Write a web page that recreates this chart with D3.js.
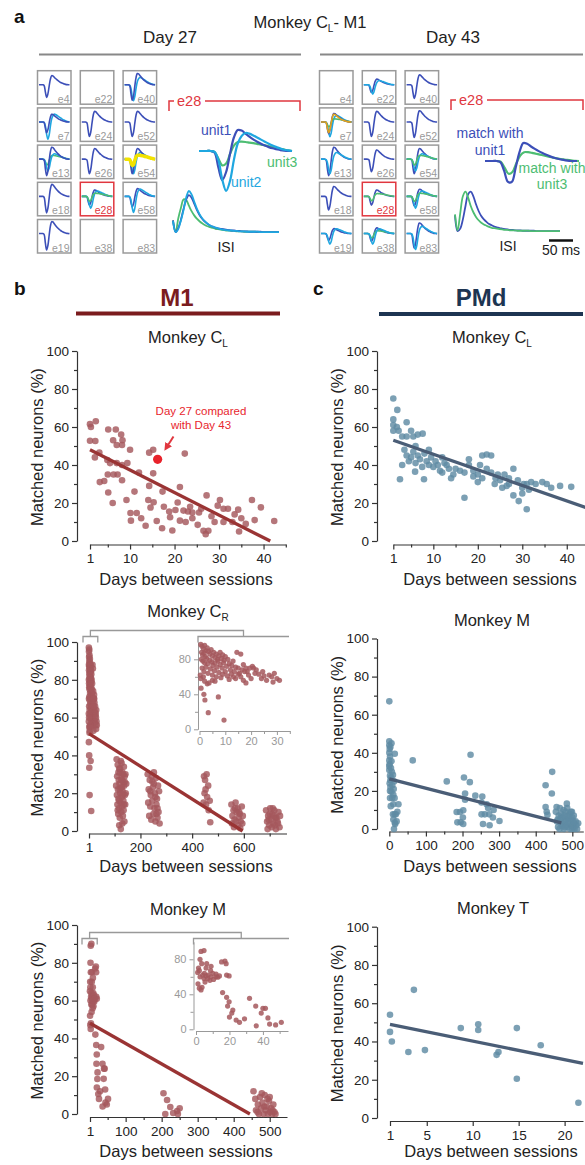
<!DOCTYPE html>
<html>
<head>
<meta charset="utf-8">
<script src="https://cdn.jsdelivr.net/npm/d3@7"></script>
<style>
body { margin: 0; background: #fff; }
svg { display: block; font-family: "Liberation Sans", Arial, Helvetica, sans-serif; }
</style>
</head>
<body>
<svg id="fig" width="585" height="1165"></svg>
<script>
// ---------- panel a : waveforms (normalised samples) ----------
var wfUnit1 = [0,0,0,0,-0.05,-0.55,-0.97,-0.7,-0.1,0.45,0.7,0.68,0.58,0.48,0.39,0.31,0.24,0.18,0.13,0.09,0.06,0.03,0.01,0,0];
var wfUnit2 = [0,0,0,0,-0.03,-0.3,-0.95,-1.33,-1.0,-0.3,0.25,0.5,0.6,0.58,0.52,0.45,0.38,0.31,0.24,0.18,0.13,0.08,0.04,0.02,0];
var wfUnit3 = [0,0,0,0,-0.03,-0.25,-0.48,-0.42,-0.1,0.18,0.3,0.31,0.3,0.28,0.26,0.24,0.21,0.19,0.16,0.13,0.1,0.07,0.05,0.02,0];
var wfMatch1 = [0,0,0,0,-0.05,-0.45,-0.95,-0.95,-0.3,0.4,0.82,0.78,0.66,0.55,0.45,0.36,0.28,0.21,0.15,0.1,0.06,0.03,0.01,0,0];
var wfMatch3 = [0,0,0,0,-0.03,-0.3,-0.58,-0.5,-0.1,0.25,0.4,0.4,0.37,0.33,0.29,0.25,0.21,0.17,0.13,0.1,0.07,0.05,0.03,0.01,0];

var isiUnit1 = [0.3,0.02,0.12,0.32,0.58,0.8,0.9,0.84,0.7,0.55,0.43,0.34,0.27,0.22,0.18,0.15,0.13,0.11,0.1,0.09,0.08,0.07,0.06,0.06,0.05,0.05,0.04,0.04,0.04,0.03,0.03,0.03,0.03,0.03,0.02,0.02,0.02,0.02,0.02,0.02,0.02];
var isiUnit2 = [0.28,0.02,0.1,0.3,0.55,0.85,1.0,0.92,0.75,0.58,0.45,0.35,0.28,0.22,0.18,0.15,0.13,0.11,0.09,0.08,0.07,0.06,0.06,0.05,0.05,0.04,0.04,0.04,0.03,0.03,0.03,0.03,0.03,0.02,0.02,0.02,0.02,0.02,0.02,0.02,0.02];
var isiUnit3 = [0.3,0.03,0.35,0.6,0.8,0.78,0.65,0.52,0.42,0.34,0.28,0.23,0.19,0.16,0.14,0.12,0.1,0.09,0.08,0.07,0.06,0.06,0.05,0.05,0.04,0.04,0.04,0.03,0.03,0.03,0.03,0.03,0.02,0.02,0.02,0.02,0.02,0.02,0.02,0.02,0.02];
var isiMatch1 = [0.4,0.02,0.08,0.3,0.62,0.9,0.96,0.85,0.66,0.5,0.38,0.3,0.24,0.19,0.16,0.13,0.11,0.09,0.08,0.07,0.06,0.05,0.05,0.04,0.04,0.04,0.03,0.03,0.03,0.03,0.03,0.02,0.02,0.02,0.02,0.02,0.02,0.02,0.02,0.02,0.02];
var isiMatch3 = [0.42,0.04,0.45,0.85,0.96,0.82,0.62,0.47,0.36,0.28,0.22,0.18,0.15,0.12,0.1,0.09,0.08,0.07,0.06,0.05,0.05,0.04,0.04,0.04,0.03,0.03,0.03,0.03,0.03,0.02,0.02,0.02,0.02,0.02,0.02,0.02,0.02,0.02,0.02,0.02,0.02];

var electrodes = ["e4","e22","e40","e7","e24","e52","e13","e26","e54","e18","e28","e58","e19","e38","e83"];
// [unit, amplitude] per electrode, same order as electrodes
var waves27 = [
  [["u1",13]], [], [["u2",12],["u1",16]],
  [["u2",13],["u1",11]], [["u1",15]], [["u1",15]],
  [["u3",12],["u2",9],["u1",17]], [["u1",15]], [["u2",11],["u1",15],["u4",13]],
  [["u1",17]], [["u1",9],["u2",9],["u3",10]], [["u1",11],["u2",12]],
  [["u1",17]], [], []
];
var waves43 = [
  [], [["u1",8],["u2",7]], [["u1",14]],
  [["u2",11],["u3",10],["u1",12],["u5",11]], [["u1",15]], [["u1",16]],
  [["u1",17],["u2",11]], [["u1",13]], [["u1",15],["u2",9],["u3",12]],
  [["u1",14]], [["u1",9],["u3",9]], [["u1",10],["u2",9],["u3",10]],
  [["u1",7],["u2",8]], [["u1",8],["u3",9],["u2",8]], [["u1",15],["u2",12]]
];

// ---------- panel b/c : % matched neurons vs days between sessions ----------
var m1CLPts = [[1,61.5],[1.2,60],[2.3,63],[1,52.8],[2.2,52.6],[2.1,44],[3.1,46.5],[3.2,31],[4.2,31.6],[5.1,25.5],[6.1,20],[5.1,58.7],[6.8,58.7],[6.2,53],[7,50.5],[8,56],[8.3,53],[8.2,50.5],[4.9,42.6],[5.5,41],[7,41],[8.2,40],[9.4,41],[5,35],[6.3,35],[7.2,35],[8.2,32],[10,48],[9.2,21.6],[10.1,14.7],[11.5,14.7],[14.3,46.5],[15.2,48],[15.2,35.6],[14.3,29],[14.1,21.6],[14.6,17.6],[15.3,20.4],[17.3,26],[17.6,18],[20.2,16.3],[22.3,46],[21.2,28.4],[20.7,20.3],[22,16],[23,15.5],[24,15],[25.5,15],[27.2,24],[30.2,21.6],[29.7,18.6],[31,17],[32,17],[37.4,21.6],[39.4,17.7],[10.2,10.7],[17.2,6.7],[21.2,10.7],[26.5,5.4],[27,3.6],[27.6,5.4],[31,10],[33,10],[42.4,10.5],[12.5,12],[13.5,8],[16,10.5],[19,12.5],[22.5,10],[24,12],[25.2,8.5],[28.3,13],[29,10],[33.5,14],[34.3,16.5],[35,12],[36,9],[38,11],[34.5,5],[19.5,5.5],[23.5,18],[26,17],[18.8,15.5],[12,36],[11,26]];
var m1CLHighlight = [[16.2,43]];
var m1CLFit = [[1,48],[41.5,0]];

var crEarly = [[0.5,97],[1,95],[1.5,92],[2,96],[2.5,90],[3,93],[0.8,88],[1.2,85],[1.8,87],[2.2,83],[3.5,89],[4,86],[4.5,91],[5,84],[5.5,88],[6,82],[6.5,86],[7,80],[7.5,84],[8,88],[8.5,81],[9,85],[9.5,79],[10,83],[0.7,80],[1.3,78],[2,76],[2.8,81],[3.2,75],[4,79],[4.8,77],[5.2,73],[6,76],[6.8,71],[7.2,78],[8,74],[8.8,70],[9.3,76],[10.5,72],[11,80],[11.5,75],[12,68],[12.5,73],[13,78],[13.5,66],[14,71],[14.5,88],[15,70],[15.5,64],[16,86],[16.5,68],[17,74],[1,70],[1.7,66],[2.5,71],[3.3,64],[4.2,69],[5,62],[5.8,67],[6.5,60],[7.5,65],[8.3,59],[9,63],[10,66],[10.8,61],[11.5,57],[12.3,63],[13.2,60],[14,58],[15,63],[16,60],[17,56],[18,53],[18.5,66],[19,62],[20,58],[21,70],[21.5,64],[22,68],[23,63],[24,58],[24.5,66],[25,61],[26,56],[27,62],[28,60],[28.5,54],[29,64],[30,58],[31,56],[2,55],[3,52],[0.6,47],[1.7,40],[2.1,33.5],[3.4,19],[7.3,37],[9.5,10.6],[3.7,53],[5,56],[6,55],[0.3,62],[0.5,58],[1.5,60],[19.5,70],[20.5,72],[17.5,66],[18,70]];
var crLate = [[108,38],[112,35],[118,33],[124,37],[130,31],[136,34],[142,30],[110,29],[116,27],[121,31],[127,28],[133,26],[139,29],[145,25],[106,24],[113,22],[119,25],[125,23],[131,21],[137,24],[143,20],[109,19],[115,17],[122,20],[128,18],[134,16],[140,19],[111,14],[117,12],[123,15],[129,13],[135,11],[141,14],[114,9],[120,7],[126,10],[132,8],[138,5],[118,3],[124,1],[130,4],[121,33],[127,36],[133,30],[115,31],[139,26],[126,27],[120,22],[132,19],[117,16],[128,23],[136,14],[112,11],
  [228,30],[236,27],[244,29],[252,25],[260,28],[268,24],[232,22],[240,19],[248,23],[256,20],[264,17],[272,21],[230,15],[238,13],[246,16],[254,12],[262,14],[270,10],[234,8],[242,6],[250,9],[258,5],[266,7],[274,4],[246,26],[258,18],[238,21],[266,12],[252,31],[262,9],
  [446,29],[456,30],[450,27],[462,24],[448,20],[458,18],[468,16],[444,15],[454,14],[464,11],[470,4.6],[452,22],
  [552,14],[560,11],[568,15],[576,12],[584,9],[592,13],[556,8],[564,6],[572,10],[580,7],[588,5],[596,8],[554,4],[562,2],[570,5],[578,3],[586,1.5],[594,4],[566,12],[582,10],
  [686,11],[694,8],[702,12],[710,9],[718,11],[726,7],[734,10],[690,5],[698,3],[706,6],[714,4],[722,7],[730,5],[738,2],[692,1],[700,9],[708,2],[716,8],[724,1],[732,4],[740,8],[712,12],[696,6],[720,3]];
var crFit = [[1,51.5],[595,0]];

var mEarly = [[3,89],[4.8,90],[2.4,80],[3.4,75],[6.4,75],[1.5,70],[2.4,60],[4.8,58],[7.3,62],[8.7,67],[10,64],[11.9,60],[13,59.5],[15.3,77],[17.3,78],[18,75],[18.3,62],[19.8,61],[3,45],[3.6,48],[5.4,54],[8.3,56],[15.9,42],[18.3,36.5],[19.8,31.5],[18.9,26.6],[32,35.4],[35.7,26.6],[40,24],[41.5,24],[1,65],[2,67],[4,62],[5,64],[6,61],[7,58],[9,60],[10.5,57],[12,63],[14,61],[6,70],[9,72],[1.2,52],[2,47],[21.4,18.5],[24,10.6],[26,8],[39,18.6],[43,13],[47.6,5],[51,8],[22,22],[20,14],[44,6],[29,12],[36,4]];
var mLate = [[205,11],[215,7.4],[224,3.7],[232,0.5],[243,1.6],[210,0],[245,0],[250,3],[455,12],[460,8],[462,2],[467,5],[470,0],[473,9],[476,3],[480,6],[483,0],[486,10],[489,2],[492,4],[495,0],[498,7],[501,1],[504,3],[507,0],[510,5],[513,1],[516,0],[478,11],[494,8],[466,1],[485,4],[500,9],[508,2]];
var mFit = [[1,48],[445,0]];

var pmdCLPts = [[1,75],[1.9,69],[1,64],[1,61],[1,58],[1.8,60],[2.2,58],[4,62.5],[3,55],[4,55],[5,58],[5.5,55],[6.5,56],[7.6,56.5],[2.5,32.5],[5.9,36.5],[7.9,32.5],[10,39],[12,44],[12.5,41],[13.5,38],[14.5,35],[14,33],[17,22.8],[18,43],[21,45],[22,45.5],[23,45],[21,33],[23.8,30],[24.5,35],[28,38],[25.5,28],[28,24],[29.2,21],[30,25],[31,16.7],[31,30],[32,31],[34.5,31],[35.5,30],[36.5,28],[38.5,29],[41,28.5],[30.3,30],[3.5,48],[4,45],[4.5,42],[5,44],[5.5,47],[6,41],[6.5,45],[7,43],[7.5,39],[8,46],[8.5,42],[9,40],[9.5,44],[10.5,42],[11,40],[11.5,37],[12,36],[13,40],[15,38],[16,37],[17,36],[18,40],[19,37],[20,35],[20.5,40],[22,38],[23,36],[24,33],[25,32],[26,35],[27,33],[29,32],[30,28],[31.5,27],[33,30],[27,30],[20,31],[19,34],[26.5,29],[6,50],[3,40],[9,48]];
var pmdCLFit = [[1,53],[45,17]];

var pmdMPts = [[0,67],[0,46],[0,44],[1,42],[0,40],[2,38],[15,39.5],[0,36],[1,34],[0,33],[0,31],[2,28],[4.5,32],[6,35.6],[3,25.6],[2,20],[6,19.5],[2,16.3],[8,16.3],[11,18],[14.5,16.3],[11,13],[10,28.4],[10,7.7],[14.5,7.7],[18,7.7],[11,5],[15,3.3],[12.7,0],[16,2.6],[64,36],[1,24],[3,22],[5,27],[7,30],[8,23],[12,21],[13,25],[4,12],[20,4],[22,9],[25,13],[6,45],[3,43],
  [157,25],[204,27],[220,24.6],[207,18.6],[207,15.4],[184,8.9],[193,8.9],[202,9.8],[186,3.5],[195,3.5],[201,6],[202,2.6],[252,13.9],[266,13],[270,11],[285,10],[252,7.7],[261,7.7],[273,7.7],[256,2.6],[274,2],[283,6],[301,4.2],[254,17],[222,39],[235,17.5],
  [445,30],[427,23],[444,18.6],[427,11.5],[430,9],[432,7.4],[457,11.5],[485,13.3],
  [455,9],[458,4],[461,1],[463,7],[465,0],[467,5],[469,8],[471,3],[473,1.5],[474,6],[477,0],[479,4],[481,9],[483,2],[484,5],[487,7],[488,1],[491,3],[493,8],[494,0],[497,5],[498,2],[500,6],[502,1],[505,3],[506,0],[509,4],[511,2],[466,11],[476,10],[486,11],[496,9],[504,7],[470,6],[480,1],[490,6],[500,0],[513,0],[516,3],[460,5],[468,3],[478,7],[489,4],[499,9],[503,4]];
var pmdMFit = [[0,26.3],[470,3.2]];

var pmdTPts = [[1,54],[1,45],[1.2,40],[3.6,67],[3,34.5],[4.8,35.5],[8.7,47],[10.6,49],[10.6,46],[12.6,33],[12.8,34.5],[14.8,47],[14.8,20.5],[17.4,38],[21.5,8]];
var pmdTFit = [[1,49],[22,28.5]];

// ---------- drawing ----------
var svg = d3.select("#fig");
var TXT = "#222";
var M1_PT = "#a5585d", M1_LINE = "#9a3434", PMD_PT = "#5f8ba4", PMD_LINE = "#4a5d76";
var RED = "#e0373f";
var unitColor = d3.scaleOrdinal().domain(["u1","u2","u3","u4","u5"])
  .range(["#3c4fb8", "#1fa7e0", "#4dbd72", "#f2e200", "#e2a61b"]);
var unitShape = {u1: wfUnit1, u2: wfUnit2, u3: wfUnit3, u4: wfUnit3, u5: wfUnit1};

svg.append("defs").append("marker")
  .attr("id", "arr").attr("viewBox", "0 0 10 10").attr("refX", 5).attr("refY", 5)
  .attr("markerWidth", 4).attr("markerHeight", 4).attr("orient", "auto")
  .append("path").attr("d", "M0,0L10,5L0,10z").attr("fill", RED);

function label(x, y, txt, size, opts) {
  opts = opts || {};
  return svg.append("text").attr("x", x).attr("y", y)
    .attr("text-anchor", opts.anchor || "middle")
    .attr("font-size", size)
    .attr("font-weight", opts.bold ? "bold" : null)
    .attr("fill", opts.fill || TXT)
    .text(txt);
}

function subTitle(x, y, main, sub, after) {
  var t = svg.append("text").attr("x", x).attr("y", y).attr("text-anchor", "middle")
    .attr("font-size", 16.5).attr("fill", TXT);
  t.append("tspan").text(main);
  t.append("tspan").attr("font-size", 10).attr("dy", 4).text(sub);
  if (after) t.append("tspan").attr("dy", -4).text(after);
}

// panel labels / headers
label(14, 23, "a", 19, {anchor: "start", bold: true, fill: "#111"});
subTitle(310, 28, "Monkey C", "L", "- M1");
label(170, 43, "Day 27", 17);
label(453, 43, "Day 43", 17);
svg.append("line").attr("x1", 39).attr("x2", 301).attr("y1", 54.5).attr("y2", 54.5).attr("stroke", "#888").attr("stroke-width", 2);
svg.append("line").attr("x1", 320).attr("x2", 583).attr("y1", 54.5).attr("y2", 54.5).attr("stroke", "#888").attr("stroke-width", 2);

// electrode grids
function drawGrid(x0, waves) {
  var bw = 33.5, bh = 33.5, dx = 42.8, dy = 37.2, y0 = 70.7;
  electrodes.forEach(function(name, i) {
    var bx = x0 + (i % 3) * dx, by = y0 + Math.floor(i / 3) * dy;
    var isRed = name === "e28";
    var g = svg.append("g");
    var xs = d3.scaleLinear().domain([0, 24]).range([bx + 1.5, bx + bw - 1.5]);
    var base = by + bh * 0.42;
    waves[i].forEach(function(w) {
      var y = d3.scaleLinear().domain([-1, 1]).range([base + w[1], base - w[1]]);
      var line = d3.line().x(function(d, k) { return xs(k); }).y(function(d) { return y(d); }).curve(d3.curveCatmullRom);
      g.append("path").attr("d", line(unitShape[w[0]])).attr("fill", "none")
        .attr("stroke", unitColor(w[0])).attr("stroke-width", w[0] === "u4" ? 3.5 : 1.6);
    });
    g.append("rect").attr("x", bx).attr("y", by).attr("width", bw).attr("height", bh)
      .attr("fill", "none").attr("stroke", isRed ? RED : "#9a9a9a").attr("stroke-width", 1.5);
    g.append("text").attr("x", bx + bw - 1.5).attr("y", by + bh - 1.5).attr("text-anchor", "end")
      .attr("font-size", 10.5).attr("fill", isRed ? RED : "#9a9a9a").text(name);
  });
}
drawGrid(37.5, waves27);
drawGrid(319.5, waves43);

// e28 brackets
function bracket(xl, xr, y) {
  svg.append("path").attr("d", "M" + xl + "," + (y + 10) + "V" + y + "H" + (xl + 5))
    .attr("fill", "none").attr("stroke", RED).attr("stroke-width", 1.5);
  svg.append("path").attr("d", "M" + (xl + 36) + "," + y + "H" + xr + "V" + (y + 10))
    .attr("fill", "none").attr("stroke", RED).attr("stroke-width", 1.5);
  label(xl + 8, y + 5, "e28", 14.5, {anchor: "start", fill: RED});
}
bracket(169, 300, 101);
bracket(451, 583, 100);

function drawWave(arr, x0, x1, base, amp, color, width) {
  var xs = d3.scaleLinear().domain([0, arr.length - 1]).range([x0, x1]);
  var ys = d3.scaleLinear().domain([-1, 1]).range([base + amp, base - amp]);
  var line = d3.line().x(function(d, k) { return xs(k); }).y(function(d) { return ys(d); }).curve(d3.curveCatmullRom);
  svg.append("path").attr("d", line(arr)).attr("fill", "none").attr("stroke", color)
    .attr("stroke-width", width).attr("stroke-linejoin", "round");
}

// day 27 detail
drawWave(wfUnit3, 199, 292, 151, 30, unitColor("u3"), 2.2);
drawWave(wfUnit1, 199, 292, 151, 30, unitColor("u1"), 2.2);
drawWave(wfUnit2, 199, 292, 151, 30, unitColor("u2"), 2.2);
label(201, 135, "unit1", 14, {anchor: "start", fill: unitColor("u1")});
label(231, 187, "unit2", 14, {anchor: "start", fill: unitColor("u2")});
label(267, 167, "unit3", 14, {anchor: "start", fill: unitColor("u3")});
drawWave(isiUnit3, 173, 279, 233, 42, unitColor("u3"), 1.8);
drawWave(isiUnit1, 173, 279, 233, 42, unitColor("u1"), 1.8);
drawWave(isiUnit2, 173, 279, 233, 42, unitColor("u2"), 1.8);
label(226, 252, "ISI", 14);

// day 43 detail
drawWave(wfMatch3, 485, 579, 161, 22, unitColor("u3"), 2.2);
drawWave(wfMatch1, 485, 577, 161, 22, unitColor("u1"), 2.2);
label(490, 138, "match with", 14, {fill: unitColor("u1")});
label(490, 155, "unit1", 14, {fill: unitColor("u1")});
label(552, 173, "match with", 14, {fill: unitColor("u3")});
label(552, 189, "unit3", 14, {fill: unitColor("u3")});
drawWave(isiMatch1, 455, 560, 232, 42, unitColor("u1"), 1.8);
drawWave(isiMatch3, 455, 560, 232, 42, unitColor("u3"), 1.8);
label(508, 251, "ISI", 14);
svg.append("line").attr("x1", 549).attr("x2", 573).attr("y1", 240.5).attr("y2", 240.5).attr("stroke", "#111").attr("stroke-width", 2.5);
label(561, 255, "50 ms", 14);

// b / c headers
label(14, 295, "b", 19, {anchor: "start", bold: true, fill: "#111"});
label(313, 295, "c", 19, {anchor: "start", bold: true, fill: "#111"});
label(177, 306, "M1", 24, {bold: true, fill: "#7b1c1e"});
label(481, 306, "PMd", 24, {bold: true, fill: "#1d3552"});
svg.append("line").attr("x1", 76).attr("x2", 280).attr("y1", 313.5).attr("y2", 313.5).attr("stroke", "#7b1c1e").attr("stroke-width", 4);
svg.append("line").attr("x1", 379).attr("x2", 583).attr("y1", 314).attr("y2", 314).attr("stroke", "#1d3552").attr("stroke-width", 4);

function axes(g, x, y, o, inset) {
  var col = inset ? "#999" : "#333";
  var fs = inset ? 11 : 13.5;
  var yA = g.append("g").attr("transform", "translate(" + o.yAxisX + ",0)")
    .call(d3.axisLeft(y).tickValues(o.yMajor).tickSize(inset ? 4 : 5).tickSizeOuter(0).tickPadding(3));
  var yB = g.append("g").attr("transform", "translate(" + o.yAxisX + ",0)")
    .call(d3.axisLeft(y).tickValues(o.yMinor).tickSize(3).tickFormat(""));
  yB.select(".domain").remove();
  var xA = g.append("g").attr("transform", "translate(0," + o.xAxisY + ")")
    .call(d3.axisBottom(x).tickValues(o.xMajor).tickSize(inset ? 4 : 5).tickSizeOuter(0).tickPadding(inset ? 2 : 4));
  var xB = g.append("g").attr("transform", "translate(0," + o.xAxisY + ")")
    .call(d3.axisBottom(x).tickValues(o.xMinor).tickSize(3).tickFormat(""));
  xB.select(".domain").remove();
  [yA, yB, xA, xB].forEach(function(a) {
    a.attr("font-size", fs).attr("font-family", null).attr("color", col);
    a.selectAll("path, line").attr("stroke-width", inset ? 1 : 1.2);
  });
  if (!inset) [yA, xA].forEach(function(a) { a.selectAll("text").attr("fill", TXT); });
}

function scatter(o) {
  var g = svg.append("g");
  var x = d3.scaleLinear().domain(o.xDomain).range(o.xRange);
  var y = d3.scaleLinear().domain([0, 100]).range(o.yRange);
  axes(g, x, y, o, false);
  g.append("g").selectAll("circle").data(o.points).join("circle")
    .attr("cx", function(d) { return x(d[0]); }).attr("cy", function(d) { return y(d[1]); })
    .attr("r", 3.3).attr("fill", o.color).attr("fill-opacity", 0.82);
  g.append("line").attr("x1", x(o.fit[0][0])).attr("y1", y(o.fit[0][1]))
    .attr("x2", x(o.fit[1][0])).attr("y2", y(o.fit[1][1]))
    .attr("stroke", o.lineColor).attr("stroke-width", 3.3);
  subTitle(o.titleX, o.titleY, o.title, o.sub || "");
  label(o.titleX - 2, o.xlabelY, "Days between sessions", 16.5);
  svg.append("text").attr("transform", "translate(" + (o.yAxisX - 34) + "," + (y(50) + 1) + ") rotate(-90)")
    .attr("text-anchor", "middle").attr("font-size", 16.5).attr("fill", TXT).text("Matched neurons (%)");
  return {g: g, x: x, y: y};
}

function inset(o) {
  var g = svg.append("g");
  var x = d3.scaleLinear().domain(o.xDomain).range(o.xRange);
  var y = d3.scaleLinear().domain([0, 100]).range(o.yRange);
  axes(g, x, y, o, true);
  g.append("g").selectAll("circle").data(o.points).join("circle")
    .attr("cx", function(d) { return x(d[0]); }).attr("cy", function(d) { return y(d[1]); })
    .attr("r", 2.6).attr("fill", M1_PT).attr("fill-opacity", 0.85);
  return {x: x, y: y};
}

function zoomBracket(xl, xr, yTop, xInL, xInR) {
  var mid = (xl + xr) / 2, midIn = (xInL + xInR) / 2;
  var p = "M" + xl + "," + (yTop + 12) + "V" + (yTop + 6) + "H" + xr + "V" + (yTop + 12) +
    "M" + mid + "," + (yTop + 6) + "V" + yTop + "H" + midIn + "V" + (yTop + 6) +
    "M" + xInL + "," + (yTop + 12) + "V" + (yTop + 6) + "H" + xInR;
  svg.append("path").attr("d", p).attr("fill", "none").attr("stroke", "#999").attr("stroke-width", 1.3);
}

var yMajor = [0, 20, 40, 60, 80, 100], yMinor = [10, 30, 50, 70, 90];

// M1 monkey CL
var pCL = scatter({points: m1CLPts, fit: m1CLFit, color: M1_PT, lineColor: M1_LINE,
  xDomain: [1, 45], xRange: [90, 285.8], yRange: [541, 351], yAxisX: 77, xAxisY: 544.5,
  xMajor: [1, 10, 20, 30, 40], xMinor: [5, 15, 25, 35, 45], yMajor: yMajor, yMinor: yMinor,
  title: "Monkey C", sub: "L", titleX: 188, titleY: 343, xlabelY: 585});
pCL.g.selectAll(".hl").data(m1CLHighlight).join("circle").attr("class", "hl")
  .attr("cx", function(d) { return pCL.x(d[0]); }).attr("cy", function(d) { return pCL.y(d[1]); })
  .attr("r", 4.6).attr("fill", "#e8222b");
label(201, 415, "Day 27 compared", 11.5, {fill: "#e8262e"});
label(201, 429, "with Day 43", 11.5, {fill: "#e8262e"});
svg.append("line").attr("x1", 173.5).attr("y1", 436.5).attr("x2", 166.5).attr("y2", 447.5)
  .attr("stroke", RED).attr("stroke-width", 2).attr("marker-end", "url(#arr)");

// M1 monkey CR
var crAll = crEarly.concat(crLate);
var pCR = scatter({points: crAll, fit: crFit, color: M1_PT, lineColor: M1_LINE,
  xDomain: [1, 765], xRange: [89, 286.5], yRange: [831, 642], yAxisX: 77, xAxisY: 833.5,
  xMajor: [1, 200, 400, 600], xMinor: [100, 300, 500, 700], yMajor: yMajor, yMinor: yMinor,
  title: "Monkey C", sub: "R", titleX: 188, titleY: 617, xlabelY: 872});
var iCR = inset({points: crEarly, xDomain: [0, 35], xRange: [199.5, 289.8], yRange: [729.3, 641.8],
  yAxisX: 198, xAxisY: 731, xMajor: [0, 10, 20, 30], xMinor: [5, 15, 25, 35], yMajor: [0, 40, 80], yMinor: [20, 60]});
zoomBracket(pCR.x(1) - 6, pCR.x(35), 630.5, 198, 289);

// M1 monkey M
var pM = scatter({points: mEarly.concat(mLate), fit: mFit, color: M1_PT, lineColor: M1_LINE,
  xDomain: [1, 548], xRange: [90, 287], yRange: [1114, 925], yAxisX: 77, xAxisY: 1117,
  xMajor: [1, 100, 200, 300, 400, 500], xMinor: [50, 150, 250, 350, 450], yMajor: yMajor, yMinor: yMinor,
  title: "Monkey M", sub: "", titleX: 188, titleY: 915, xlabelY: 1157});
var iM = inset({points: mEarly, xDomain: [0, 55], xRange: [196, 288], yRange: [1029.3, 941.8],
  yAxisX: 193.5, xAxisY: 1031, xMajor: [0, 20, 40], xMinor: [10, 30, 50], yMajor: [0, 40, 80], yMinor: [20, 60]});
zoomBracket(pM.x(1) - 8, pM.x(21), 932.5, 193.5, 289);

// PMd monkey CL
scatter({points: pmdCLPts, fit: pmdCLFit, color: PMD_PT, lineColor: PMD_LINE,
  xDomain: [1, 45], xRange: [393.3, 589], yRange: [541, 351], yAxisX: 377, xAxisY: 544.5,
  xMajor: [1, 10, 20, 30, 40], xMinor: [5, 15, 25, 35, 45], yMajor: yMajor, yMinor: yMinor,
  title: "Monkey C", sub: "L", titleX: 492, titleY: 343, xlabelY: 585});

// PMd monkey M
scatter({points: pmdMPts, fit: pmdMFit, color: PMD_PT, lineColor: PMD_LINE,
  xDomain: [0, 530], xRange: [389.3, 583.3], yRange: [829, 638.5], yAxisX: 377, xAxisY: 831.5,
  xMajor: [0, 100, 200, 300, 400, 500], xMinor: [50, 150, 250, 350, 450], yMajor: yMajor, yMinor: yMinor,
  title: "Monkey M", sub: "", titleX: 492, titleY: 626, xlabelY: 872});

// PMd monkey T
scatter({points: pmdTPts, fit: pmdTFit, color: PMD_PT, lineColor: PMD_LINE,
  xDomain: [1, 22], xRange: [390, 583], yRange: [1118, 926.7], yAxisX: 377, xAxisY: 1121,
  xMajor: [1, 5, 10, 15, 20], xMinor: [], yMajor: yMajor, yMinor: yMinor,
  title: "Monkey T", sub: "", titleX: 493, titleY: 914, xlabelY: 1157});
</script>
</body>
</html>
